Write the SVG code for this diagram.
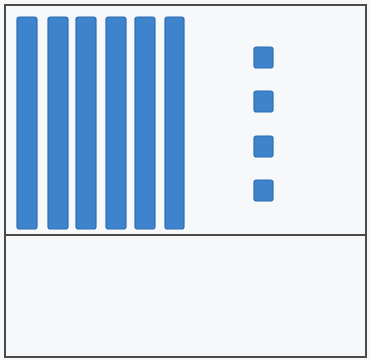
<svg xmlns="http://www.w3.org/2000/svg" width="370" height="360" viewBox="0 0 370 360">
<style>
.rod{fill:#3d84cc;stroke:#2f6db3;stroke-width:1.2}
.unit{fill:#3d84cc;stroke:#2f6db3;stroke-width:1.2}
.frame{fill:none;stroke:#4a4a4a;stroke-width:2}
</style>
<rect x="0" y="0" width="370" height="360" fill="#f6f8fa"/>
<g id="frame">
<rect class="frame" x="5" y="5" width="361" height="352"/>
<line class="frame" x1="5" y1="235" x2="366" y2="235"/>
</g>
<g id="tens">
<rect class="rod" x="17" y="17" width="20" height="212" rx="2.5"/>
<rect class="rod" x="48" y="17" width="20" height="212" rx="2.5"/>
<rect class="rod" x="76" y="17" width="20" height="212" rx="2.5"/>
<rect class="rod" x="106" y="17" width="20" height="212" rx="2.5"/>
<rect class="rod" x="135" y="17" width="20" height="212" rx="2.5"/>
<rect class="rod" x="165" y="17" width="19" height="212" rx="2.5"/>
</g>
<g id="ones">
<rect class="unit" x="254" y="47" width="19" height="21" rx="2.5"/>
<rect class="unit" x="254" y="91" width="19" height="21" rx="2.5"/>
<rect class="unit" x="254" y="136" width="19" height="21" rx="2.5"/>
<rect class="unit" x="254" y="180" width="19" height="21" rx="2.5"/>
</g>
</svg>
